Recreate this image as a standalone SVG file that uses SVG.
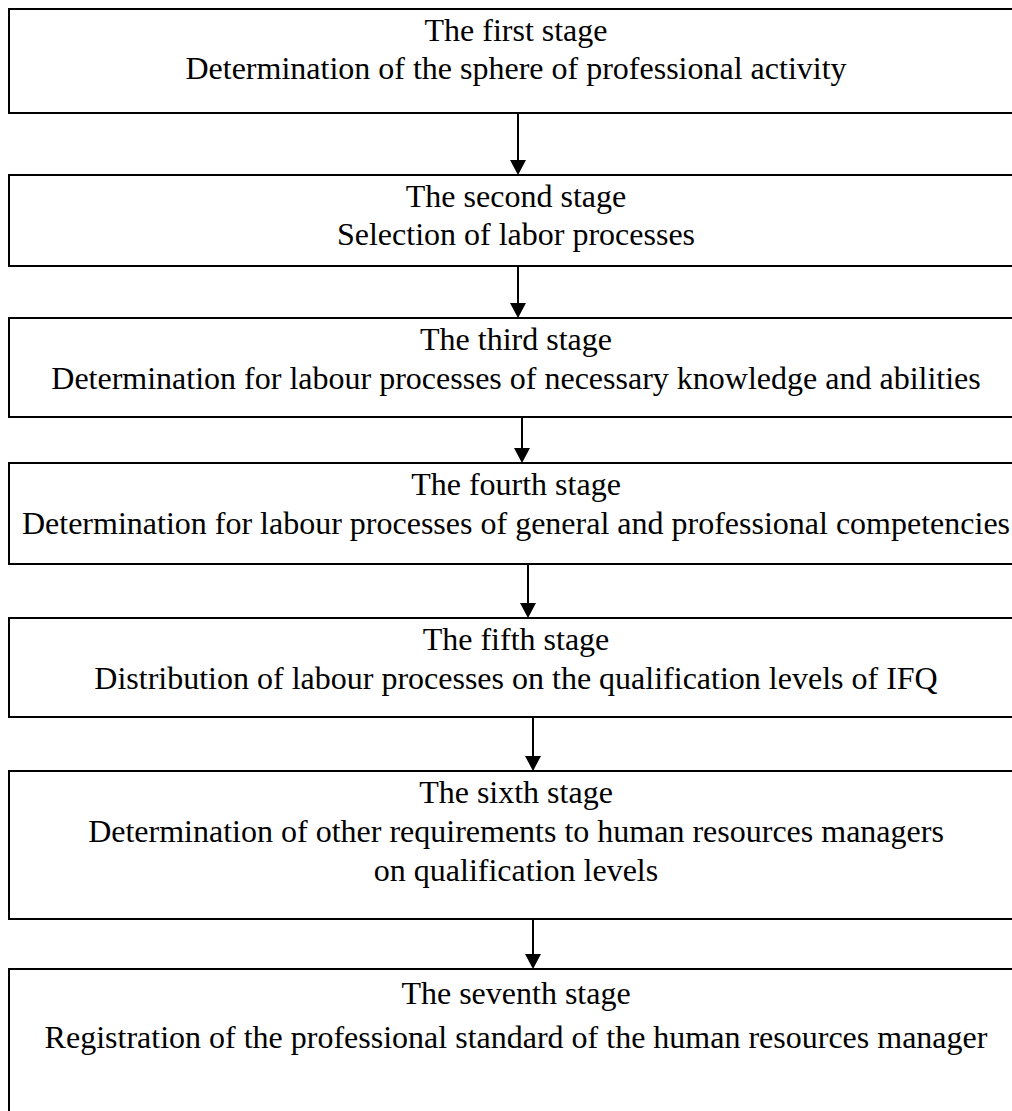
<svg xmlns="http://www.w3.org/2000/svg" width="1012" height="1111" viewBox="0 0 1012 1111">
<defs>
<style>
.box{fill:#fff;stroke:#000;stroke-width:2}
.t{font-family:'Liberation Serif','Times New Roman',serif;font-size:32px;fill:#000;text-anchor:middle}
.ln{stroke:#000;stroke-width:2;fill:none}
.ah{fill:#000}
</style>
</defs>
<rect width="1012" height="1111" fill="#fff"/>
<g id="node1"><rect class="box" x="9" y="9" width="1020" height="104"/>
<text class="t" x="516" y="41">The first stage</text>
<text class="t" x="516" y="79">Determination of the sphere of professional activity</text></g>
<g id="node2"><rect class="box" x="9" y="175" width="1020" height="91"/>
<text class="t" x="516" y="207">The second stage</text>
<text class="t" x="516" y="245">Selection of labor processes</text></g>
<g id="node3"><rect class="box" x="9" y="318" width="1020" height="99"/>
<text class="t" x="516" y="350">The third stage</text>
<text class="t" x="516" y="389">Determination for labour processes of necessary knowledge and abilities</text></g>
<g id="node4"><rect class="box" x="9" y="463" width="1020" height="101"/>
<text class="t" x="516" y="495">The fourth stage</text>
<text class="t" x="516" y="534">Determination for labour processes of general and professional competencies</text></g>
<g id="node5"><rect class="box" x="9" y="618" width="1020" height="99"/>
<text class="t" x="516" y="650">The fifth stage</text>
<text class="t" x="516" y="689">Distribution of labour processes on the qualification levels of IFQ</text></g>
<g id="node6"><rect class="box" x="9" y="771" width="1020" height="148"/>
<text class="t" x="516" y="803">The sixth stage</text>
<text class="t" x="516" y="842">Determination of other requirements to human resources managers</text>
<text class="t" x="516" y="881">on qualification levels</text></g>
<g id="node7"><rect class="box" x="9" y="969" width="1020" height="200"/>
<text class="t" x="516" y="1004">The seventh stage</text>
<text class="t" x="516" y="1048">Registration of the professional standard of the human resources manager</text></g>
<g id="connectors">
<line class="ln" x1="518" y1="113" x2="518" y2="162"/><polygon class="ah" points="510,160 526,160 518,175"/>
<line class="ln" x1="518" y1="266" x2="518" y2="305"/><polygon class="ah" points="510,303 526,303 518,318"/>
<line class="ln" x1="522" y1="417" x2="522" y2="450"/><polygon class="ah" points="514,448 530,448 522,463"/>
<line class="ln" x1="528" y1="564" x2="528" y2="605"/><polygon class="ah" points="520,603 536,603 528,618"/>
<line class="ln" x1="533" y1="717" x2="533" y2="758"/><polygon class="ah" points="525,756 541,756 533,771"/>
<line class="ln" x1="533" y1="919" x2="533" y2="956"/><polygon class="ah" points="525,954 541,954 533,969"/>
</g>
</svg>
